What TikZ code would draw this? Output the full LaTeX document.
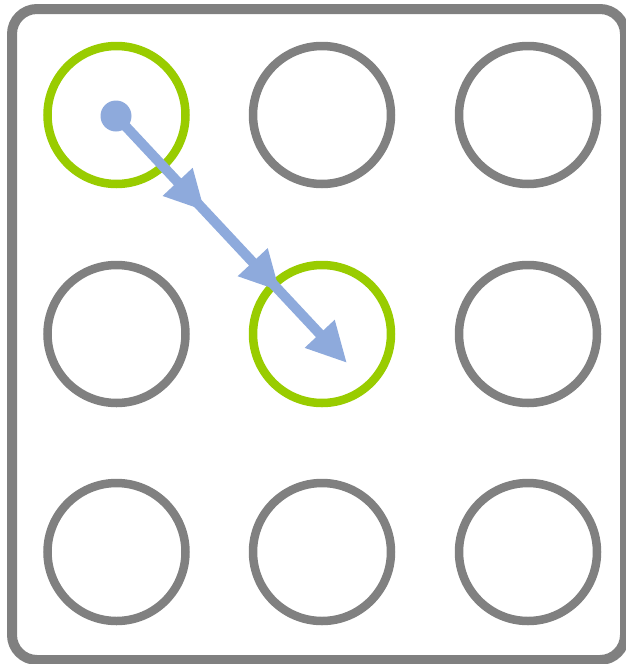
\documentclass[tikz,border=0pt]{standalone}
\usetikzlibrary{arrows.meta,decorations.markings}
\definecolor{ringgray}{RGB}{128,128,128}
\definecolor{ringgreen}{RGB}{153,204,0}
\definecolor{pathblue}{RGB}{142,170,220}
\tikzset{
  ring/.style={circle, draw=ringgray, line width=8.5pt, minimum size=138pt, inner sep=0pt},
  active/.style={ring, draw=ringgreen},
  startdot/.style={circle, fill=pathblue, minimum size=31pt, inner sep=0pt},
  swipe/.style={draw=pathblue, line width=10pt, -{Triangle[length=40pt,width=38pt]},
    postaction={decorate},
    decoration={markings,
      mark=at position 0.385 with {\arrow[pathblue]{Triangle[length=40pt,width=38pt]}},
      mark=at position 0.71 with {\arrow[pathblue]{Triangle[length=40pt,width=38pt]}}}},
  frame/.style={draw=ringgray, line width=10pt, rounded corners=25pt}
}
\begin{document}
\begin{tikzpicture}[x=1pt,y=-1pt]
\useasboundingbox (0,0) rectangle (626,664);
\draw[frame] (12,9) rectangle (625,660);
\node[active] (c11) at (116.5,115) {};
\node[ring] (c12) at (322,115) {};
\node[ring] (c13) at (528,115) {};
\node[ring] (c21) at (116.5,334) {};
\node[active] (c22) at (322,334) {};
\node[ring] (c23) at (528,334) {};
\node[ring] (c31) at (116.5,552) {};
\node[ring] (c32) at (322,552) {};
\node[ring] (c33) at (528,552) {};
\node[startdot] (dot) at (116,116) {};
\coordinate (tip) at (347,363);
\draw[swipe] (dot.center) -- (tip);
\end{tikzpicture}
\end{document}
